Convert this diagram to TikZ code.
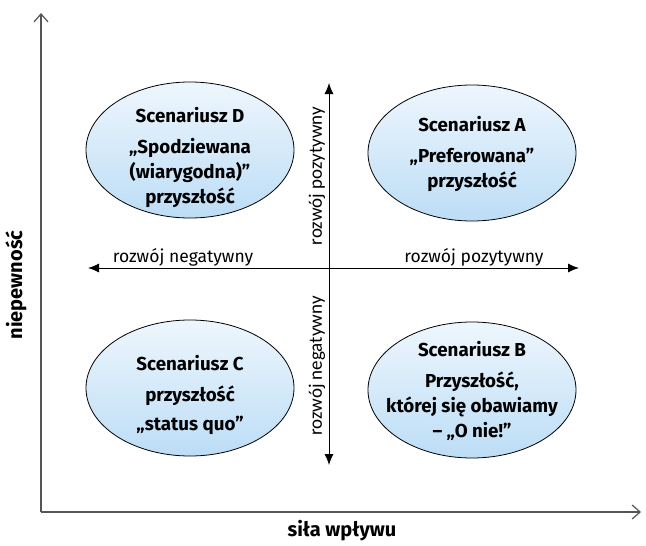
\documentclass[tikz,border=0pt]{standalone}
\usepackage{fontspec}
\setmainfont{Fira Sans}
\newfontfamily\lblfont{Carlito}
\usetikzlibrary{arrows.meta,shapes.geometric}
\definecolor{elltop}{HTML}{EEF6FD}
\definecolor{ellbot}{HTML}{BCDDF6}
\definecolor{axisgray}{HTML}{555555}
\begin{document}
\begin{tikzpicture}[x=1pt,y=-1pt,
  scen/.style={ellipse,draw=black,line width=0.8pt,top color=elltop,bottom color=ellbot,
    minimum width=208pt,minimum height=136pt,inner sep=0pt},
  scentext/.style={align=center,inner sep=0pt,font=\fontsize{18.75}{25}\selectfont\bfseries},
  axisline/.style={draw=axisgray,line width=1.2pt,-{Straight Barb[length=8pt,width=14pt]}},
  cross/.style={draw=black,line width=0.9pt,{Latex[length=11pt,width=9pt]}-{Latex[length=11pt,width=9pt]}},
  hlbl/.style={font=\fontsize{17.5}{19}\selectfont,inner sep=0pt},
  vlbl/.style={font=\lblfont\fontsize{19}{21}\selectfont,inner sep=0pt,rotate=90},
  axlbl/.style={font=\fontsize{20}{22}\selectfont\bfseries,inner sep=0pt}]
\useasboundingbox (0,0) rectangle (646,546);
\coordinate (O) at (41,512);
\coordinate (Ytop) at (41,13);
\coordinate (Xend) at (641,512);
\draw[axisline] (O) -- (Ytop);
\draw[axisline] (O) -- (Xend);
\node[axlbl,rotate=90] (yl) at (16,285) {niepewność};
\node[axlbl] (xl) at (342,531) {siła wpływu};

\coordinate (Hl) at (88,268);
\coordinate (Hr) at (579,268);
\coordinate (Vt) at (329,83);
\coordinate (Vb) at (329,465);
\draw[cross] (Hl) -- (Hr);
\draw[cross] (Vt) -- (Vb);

\node[hlbl] (hn) at (183,257) {rozwój negatywny};
\node[hlbl] (hp) at (474,257) {rozwój pozytywny};
\node[vlbl] (vp) at (317,176) {rozwój pozytywny};
\node[vlbl] (vn) at (317,366) {rozwój negatywny};

\node[scen] (D) at (190,150) {};
\node[scen] (A) at (472,153) {};
\node[scen] (C) at (190,388) {};
\node[scen] (B) at (472,390) {};
\node[scentext] (Dt) at ([yshift=-7pt]D.center) {Scenariusz D\\[6pt]„Spodziewana\\(wiarygodna)”\\przyszłość};
\node[scentext] (At) at ([yshift=-1pt]A.center) {Scenariusz A\\[6pt]„Preferowana”\\przyszłość};
\node[scentext] (Ct) at ([yshift=-7pt]C.center) {Scenariusz C\\[6pt]przyszłość\\[4pt]„status quo”};
\node[scentext] (Bt) at ([yshift=-1pt]B.center) {Scenariusz B\\[6pt]Przyszłość,\\której się obawiamy\\– „O nie!”};
\end{tikzpicture}
\end{document}
